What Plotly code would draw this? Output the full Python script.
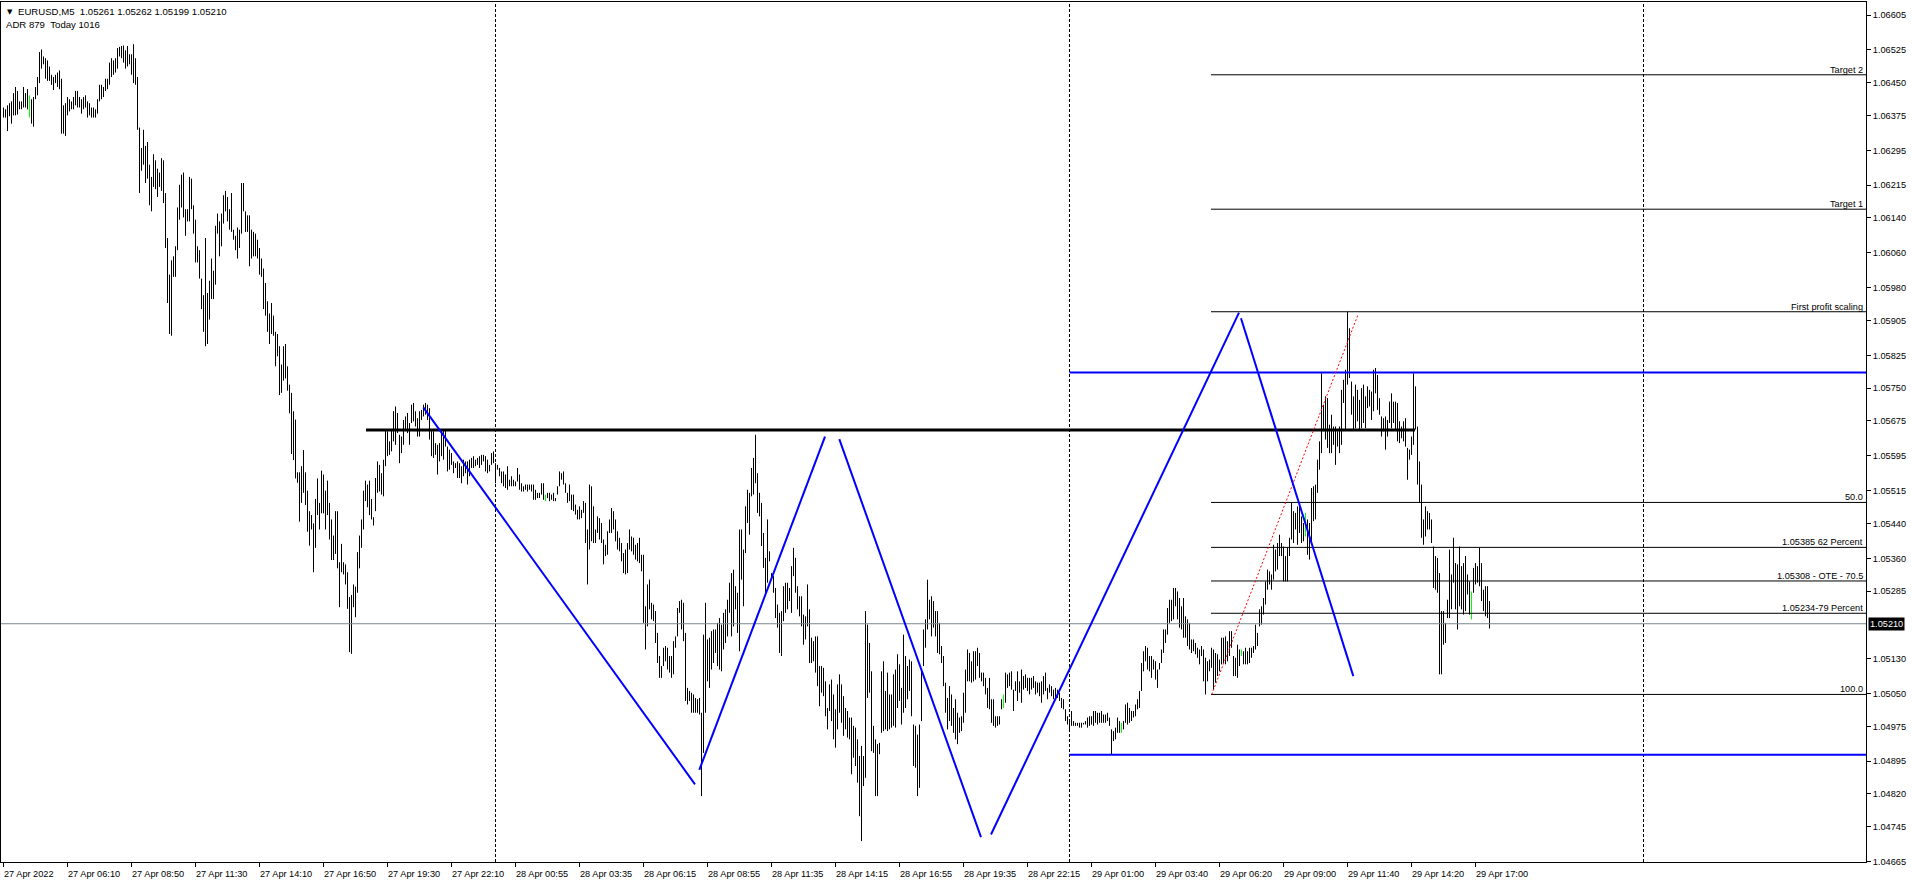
import plotly.graph_objects as go

# ---------------- data ----------------
# Bar highs / lows in 1e-5 units above 1.00000  (6393 -> 1.06393), EURUSD M5
HIGH_PTS = [
    6393, 6389, 6398, 6403, 6407, 6426, 6440, 6431, 6407, 6407,
    6440, 6426, 6435, 6421, 6412, 6417, 6440, 6463, 6520, 6526,
    6510, 6506, 6501, 6487, 6468, 6463, 6468, 6473, 6478, 6459,
    6398, 6403, 6417, 6412, 6407, 6417, 6431, 6431, 6417, 6412,
    6417, 6421, 6407, 6403, 6393, 6393, 6389, 6412, 6445, 6445,
    6440, 6459, 6459, 6496, 6506, 6501, 6506, 6529, 6532, 6534,
    6535, 6524, 6534, 6515, 6515, 6538, 6506, 6463, 6347, 6300,
    6342, 6305, 6314, 6262, 6234, 6286, 6272, 6253, 6244, 6277,
    6272, 6197, 6094, 6010, 6043, 6052, 6075, 6164, 6216, 6239,
    6244, 6160, 6160, 6234, 6230, 6169, 6136, 6075, 6066, 6001,
    5963, 6094, 5968, 5996, 6047, 6019, 6122, 6150, 6132, 6150,
    6192, 6202, 6188, 6160, 6197, 6113, 6099, 6118, 6113, 6220,
    6220, 6155, 6146, 6146, 6113, 6108, 6104, 6090, 6071, 6047,
    6024, 5991, 5949, 5921, 5945, 5916, 5879, 5874, 5846, 5804,
    5846, 5851, 5800, 5758, 5739, 5697, 5678, 5557, 5557, 5571,
    5608, 5557, 5515, 5468, 5459, 5440, 5496, 5543, 5487, 5561,
    5552, 5515, 5538, 5487, 5449, 5412, 5468, 5468, 5351, 5393,
    5351, 5346, 5328, 5271, 5276, 5300, 5295, 5374, 5412, 5449,
    5515, 5538, 5529, 5538, 5496, 5454,
    5544, 5582, 5574, 5555, 5586, 5655, 5651, 5628, 5655, 5697,
    5708, 5693, 5643, 5639, 5677, 5685, 5693, 5670, 5712, 5716,
    5697, 5681, 5697, 5700, 5712, 5716, 5712, 5704, 5655, 5651,
    5624, 5620, 5624, 5651, 5655, 5655, 5616, 5609, 5601, 5582,
    5578, 5582, 5578, 5571, 5586, 5582, 5582, 5586, 5590, 5594,
    5586, 5590, 5594, 5597, 5597, 5594, 5586, 5574, 5601, 5605,
    5578, 5574, 5567, 5559, 5559, 5552, 5571, 5540, 5548, 5540,
    5536, 5567, 5552, 5532, 5525, 5529, 5529, 5529, 5529, 5529,
    5517, 5510, 5510, 5532, 5532, 5506, 5510, 5510, 5506, 5510,
    5498, 5525, 5559, 5555, 5559, 5532, 5510, 5529, 5506, 5506,
    5483, 5471, 5479, 5471, 5491, 5487, 5426, 5529, 5525, 5479,
    5426, 5456, 5452, 5441, 5403, 5391, 5422, 5449, 5475, 5468,
    5449, 5422, 5407, 5395, 5372, 5380, 5395, 5426, 5410, 5407,
    5391, 5395, 5407, 5368, 5368, 5250, 5300, 5311, 5258, 5254,
    5239, 5189, 5136, 5113, 5155, 5159, 5155, 5136, 5136, 5170,
    5181, 5246, 5262, 5265, 5258, 5189, 5063, 5056, 5052, 5048,
    5040, 5037, 5040, 5006, 5185, 5258, 5174, 5178, 5193, 5197,
    5197, 5212, 5223, 5208, 5235, 5243, 5265, 5304, 5326, 5334,
    5296, 5281, 5426, 5426, 5380, 5479, 5517, 5510,
    5567, 5590, 5643, 5555, 5510, 5487, 5418, 5361, 5449, 5376,
    5326, 5319, 5292, 5254, 5235, 5239, 5296, 5304, 5304, 5292,
    5342, 5384, 5361, 5296, 5273, 5273, 5231, 5227, 5300, 5243,
    5178, 5170, 5181, 5181, 5113, 5113, 5109, 5078, 5017, 5071,
    5082, 5048, 5014, 5071, 5094, 5071, 5044, 5017, 5010, 4995,
    4995, 4976, 4972, 4945, 4907, 4930, 4907, 5239, 5208, 5166,
    5101, 4976, 4945, 4934, 4937, 5101, 5124, 5056, 5098, 5048,
    5048, 5094, 5105, 5140, 5117, 5063, 5185, 5136, 5113, 5128,
    5124, 4979, 4976, 4956, 4979, 5105, 5197, 5220, 5311, 5265,
    5273, 5262, 5239, 5239, 5212, 5159, 5136, 5075, 5040, 5067,
    5048, 5017, 5037, 5006, 4995, 4998, 5052, 5105, 5151, 5143,
    5124, 5147, 5147, 5155, 5143, 5098, 5098, 5086, 5063, 5086,
    5037, 5037, 4998, 4998, 4998, 5037, 5048, 5098, 5094, 5098,
    5101, 5059, 5078, 5101, 5078, 5105, 5090, 5094, 5086, 5086,
    5086, 5090, 5078, 5075, 5075, 5078, 5090, 5098, 5063, 5071,
    5067, 5059, 5063, 5059, 5052, 5040, 5037, 5014, 4998, 4991,
    5010, 4987, 4983, 4983, 4983, 4983, 4983, 4987, 4995, 4998,
    4998, 5010, 5010, 5006, 5006, 5010, 5002, 5002, 5006, 4995,
    4968, 4964, 4972, 4995, 4987, 4983, 4987,
    5025, 5029, 5017, 5010, 5010, 5025, 5037, 5056, 5120, 5147,
    5159, 5155, 5136, 5136, 5128, 5124, 5105, 5120, 5151, 5197,
    5197, 5246, 5265, 5265, 5292, 5292, 5284, 5269, 5250, 5269,
    5227, 5220, 5212, 5174, 5174, 5166, 5155, 5151, 5159, 5151,
    5132, 5124, 5128, 5155, 5151, 5143, 5140, 5128, 5178, 5178,
    5181, 5170, 5193, 5193, 5136, 5132, 5162, 5151, 5151, 5147,
    5155, 5147, 5155, 5155, 5159, 5208, 5189, 5243, 5250, 5269,
    5307, 5334, 5330, 5323, 5391, 5380, 5395, 5414, 5395, 5387,
    5365, 5384, 5407, 5487, 5468, 5464, 5479, 5487, 5456, 5441,
    5464, 5449, 5441, 5521, 5525, 5529, 5586, 5628, 5784, 5712,
    5731, 5727, 5666, 5689, 5662, 5662, 5651, 5662, 5746, 5769,
    5792, 5925, 5887, 5765, 5731, 5758, 5746, 5723, 5750, 5758,
    5731, 5754, 5746, 5742, 5792, 5796, 5780, 5727, 5685, 5681,
    5685, 5677, 5719, 5738, 5719, 5719, 5716, 5674, 5662, 5674,
    5681, 5613, 5609, 5639, 5784, 5754, 5662, 5582, 5529, 5449,
    5479, 5468, 5464, 5449, 5387, 5365, 5361, 5326, 5239, 5239,
    5212, 5265, 5380, 5323, 5407, 5349, 5346, 5387, 5342, 5349,
    5365, 5323, 5307, 5284, 5338, 5349, 5342, 5384, 5349, 5288,
    5296, 5296, 5262,
]
LOW_PTS = [
    6370, 6370, 6339, 6373, 6356, 6375, 6375, 6377, 6389, 6389,
    6393, 6393, 6389, 6370, 6356, 6349, 6412, 6421, 6449, 6482,
    6492, 6459, 6454, 6454, 6445, 6433, 6449, 6440, 6435, 6333,
    6333, 6328, 6375, 6384, 6389, 6389, 6398, 6393, 6393, 6379,
    6389, 6393, 6370, 6375, 6370, 6370, 6370, 6379, 6407, 6412,
    6417, 6431, 6435, 6445, 6463, 6468, 6473, 6482, 6510, 6506,
    6496, 6482, 6487, 6492, 6468, 6449, 6445, 6342, 6197, 6248,
    6262, 6220, 6230, 6169, 6155, 6211, 6206, 6188, 6211, 6202,
    6174, 6071, 5945, 5874, 5870, 6005, 6005, 6066, 6136, 6164,
    6141, 6099, 6132, 6132, 6160, 6104, 6038, 6038, 6001, 5931,
    5879, 5846, 5851, 5907, 5954, 5954, 5987, 6104, 6052, 6075,
    6127, 6155, 6132, 6113, 6108, 6090, 6066, 6047, 6071, 6104,
    6155, 6108, 6108, 6029, 6047, 6052, 6052, 6047, 6010, 6005,
    5931, 5916, 5879, 5851, 5874, 5870, 5800, 5823, 5734, 5739,
    5767, 5772, 5744, 5692, 5599, 5585, 5543, 5533, 5444, 5487,
    5510, 5482, 5421, 5389, 5426, 5328, 5384, 5459, 5426, 5463,
    5463, 5426, 5459, 5403, 5356, 5356, 5370, 5337, 5248, 5328,
    5323, 5300, 5244, 5145, 5141, 5248, 5225, 5281, 5337, 5384,
    5426, 5491, 5477, 5459, 5449, 5435,
    5468, 5510, 5513, 5506, 5502, 5571, 5594, 5597, 5605, 5628,
    5620, 5647, 5578, 5601, 5620, 5655, 5647, 5620, 5670, 5674,
    5662, 5639, 5639, 5677, 5685, 5689, 5677, 5632, 5594, 5590,
    5597, 5552, 5582, 5594, 5586, 5616, 5559, 5563, 5574, 5555,
    5567, 5544, 5544, 5532, 5548, 5555, 5529, 5548, 5567, 5567,
    5571, 5574, 5567, 5574, 5582, 5559, 5555, 5559, 5574, 5578,
    5532, 5563, 5548, 5532, 5525, 5521, 5517, 5525, 5525, 5525,
    5525, 5536, 5517, 5513, 5513, 5517, 5513, 5517, 5513, 5494,
    5494, 5498, 5498, 5506, 5494, 5491, 5498, 5491, 5494, 5491,
    5491, 5506, 5525, 5540, 5529, 5510, 5487, 5491, 5471, 5468,
    5460, 5449, 5449, 5452, 5464, 5395, 5300, 5380, 5399, 5395,
    5395, 5418, 5403, 5395, 5346, 5365, 5368, 5418, 5418, 5426,
    5399, 5380, 5376, 5353, 5326, 5323, 5326, 5380, 5376, 5368,
    5357, 5353, 5349, 5330, 5212, 5151, 5204, 5243, 5220, 5216,
    5166, 5120, 5086, 5086, 5113, 5124, 5105, 5098, 5086, 5094,
    5155, 5181, 5235, 5197, 5170, 5033, 5025, 5033, 5006, 5006,
    5006, 5006, 5002, 4815, 4914, 5006, 5078, 5063, 5105, 5120,
    5143, 5113, 5105, 5101, 5151, 5166, 5181, 5235, 5181, 5204,
    5243, 5189, 5147, 5311, 5250, 5372, 5441, 5414,
    5502, 5506, 5532, 5464, 5456, 5388, 5338, 5277, 5304, 5353,
    5311, 5281, 5223, 5201, 5143, 5136, 5216, 5235, 5243, 5262,
    5235, 5319, 5281, 5243, 5227, 5204, 5162, 5174, 5204, 5120,
    5120, 5124, 5098, 5067, 5021, 5052, 5044, 4998, 4968, 5010,
    4987, 4945, 4926, 4968, 5006, 4983, 4953, 4968, 4949, 4945,
    4865, 4903, 4884, 4846, 4769, 4712, 4838, 4857, 5040, 5052,
    4918, 4914, 4815, 4815, 4911, 4960, 4964, 4968, 4964, 4968,
    4972, 4976, 4972, 5017, 5033, 4979, 5006, 5017, 5037, 5056,
    4998, 4884, 4880, 4815, 4834, 4987, 5113, 5155, 5197, 5220,
    5181, 5201, 5181, 5143, 5140, 5120, 5067, 5006, 4968, 4987,
    4976, 4960, 4945, 4934, 4960, 4964, 4983, 5006, 5078, 5078,
    5075, 5078, 5082, 5113, 5086, 5078, 5067, 5048, 5017, 5014,
    4983, 4976, 4972, 4976, 4979, 5014, 5017, 5029, 5063, 5067,
    5059, 5010, 5056, 5033, 5052, 5029, 5059, 5063, 5056, 5048,
    5059, 5063, 5048, 5052, 5044, 5029, 5048, 5056, 5037, 5052,
    5044, 5037, 5037, 5040, 5033, 5017, 5014, 4987, 4979, 4968,
    4976, 4976, 4976, 4976, 4972, 4972, 4979, 4979, 4972, 4976,
    4979, 4976, 4983, 4979, 4983, 4983, 4983, 4983, 4987, 4976,
    4911, 4941, 4945, 4960, 4960, 4960, 4968,
    4983, 4979, 4983, 4987, 4995, 4998, 5014, 5017, 5056, 5101,
    5124, 5105, 5101, 5086, 5105, 5082, 5063, 5105, 5120, 5143,
    5166, 5185, 5212, 5216, 5220, 5250, 5220, 5201, 5197, 5178,
    5178, 5159, 5151, 5143, 5147, 5140, 5132, 5117, 5136, 5078,
    5048, 5078, 5101, 5109, 5059, 5075, 5090, 5101, 5117, 5120,
    5117, 5124, 5136, 5155, 5090, 5090, 5086, 5113, 5136, 5117,
    5117, 5117, 5120, 5132, 5143, 5151, 5159, 5204, 5208, 5231,
    5254, 5288, 5300, 5288, 5311, 5330, 5334, 5365, 5365, 5307,
    5307, 5307, 5365, 5403, 5395, 5426, 5391, 5418, 5395, 5399,
    5410, 5368, 5357, 5399, 5445, 5449, 5510, 5563, 5601, 5651,
    5632, 5613, 5601, 5601, 5620, 5574, 5616, 5601, 5620, 5716,
    5655, 5758, 5773, 5689, 5655, 5658, 5674, 5655, 5658, 5670,
    5658, 5704, 5708, 5677, 5697, 5738, 5700, 5689, 5639, 5651,
    5609, 5639, 5670, 5658, 5670, 5655, 5628, 5624, 5635, 5628,
    5616, 5540, 5586, 5597, 5620, 5655, 5529, 5487, 5407, 5391,
    5410, 5426, 5426, 5395, 5292, 5288, 5281, 5094, 5094, 5162,
    5166, 5223, 5223, 5243, 5304, 5243, 5197, 5250, 5243, 5231,
    5239, 5277, 5231, 5220, 5281, 5300, 5304, 5296, 5262, 5239,
    5227, 5223, 5199,
]
GREEN_BARS = [13, 271, 500, 559, 619, 651, 734]

TICK_STEP = 32
TICK_LABELS = [
    "27 Apr 2022", "27 Apr 06:10", "27 Apr 08:50", "27 Apr 11:30", "27 Apr 14:10",
    "27 Apr 16:50", "27 Apr 19:30", "27 Apr 22:10", "28 Apr 00:55", "28 Apr 03:35",
    "28 Apr 06:15", "28 Apr 08:55", "28 Apr 11:35", "28 Apr 14:15", "28 Apr 16:55",
    "28 Apr 19:35", "28 Apr 22:15", "29 Apr 01:00", "29 Apr 03:40", "29 Apr 06:20",
    "29 Apr 09:00", "29 Apr 11:40", "29 Apr 14:20", "29 Apr 17:00",
]
DAY_BREAK_BARS = [246, 533, 820]
Y_TICKS = [1.06605, 1.06525, 1.06450, 1.06375, 1.06295, 1.06215, 1.06140, 1.06060,
           1.05980, 1.05905, 1.05825, 1.05750, 1.05675, 1.05595, 1.05515, 1.05440,
           1.05360, 1.05285, 1.05130, 1.05050, 1.04975, 1.04895, 1.04820, 1.04745,
           1.04665]
CURRENT_PRICE = 1.05210
HEADER = "EURUSD,M5\u00a0\u00a01.05261 1.05262 1.05199 1.05210"
SUBHEADER = "ADR 879\u00a0\u00a0Today 1016"

RES_PRICE, RES_FROM, RES_TO = 1.05654, 181.25, 705.75
RANGE_HIGH, RANGE_LOW, RANGE_FROM = 1.05786, 1.04910, 533
FIB_FROM = 603.75
FIB_LEVELS = [1.06468, 1.06160, 1.05925, 1.05488, 1.05385, 1.05308, 1.05234, 1.05048]
FIB_TEXT = ["Target 2", "Target 1", "First profit scaling", "50.0",
            "1.05385 62 Percent", "1.05308 - OTE - 70.5", "1.05234-79 Percent", "100.0"]
FIB_ANCHOR_BARS = [604.1, 677.4]
FIB_ANCHOR_PRICES = [1.05048, 1.05920]
ZIGZAG = [
    ((209.9, 1.05706), (345.75, 1.04842)),
    ((347.9, 1.04875), (410.75, 1.05639)),
    ((417.9, 1.05633), (488.75, 1.04721)),
    ((493.75, 1.04727), (617.75, 1.05923)),
    ((618.75, 1.05910), (674.9, 1.05090)),
]

# ---------------- layout constants ----------------
X_RANGE = [-1.25, 931.25]
Y_RANGE = [1.04664, 1.066348]
FONT = "Liberation Sans, Arial, sans-serif"
BLUE = "#0000FF"


def to_price(p):
    return 1.0 + p / 100000.0


def bar_segments(indices):
    xs, ys = [], []
    for i in indices:
        xs += [i, i, None]
        ys += [to_price(LOW_PTS[i]), to_price(HIGH_PTS[i]), None]
    return xs, ys


n = min(len(HIGH_PTS), len(LOW_PTS))
green = set(GREEN_BARS)
bx, by = bar_segments([i for i in range(n) if i not in green])
gx, gy = bar_segments([i for i in range(n) if i in green])

fig = go.Figure()
fig.add_trace(go.Scatter(x=bx, y=by, mode="lines", line=dict(color="black", width=1),
                         hoverinfo="skip", showlegend=False))
fig.add_trace(go.Scatter(x=gx, y=gy, mode="lines", line=dict(color="#00FF00", width=1),
                         hoverinfo="skip", showlegend=False))

shapes = []
# day separators
for b in DAY_BREAK_BARS:
    shapes.append(dict(type="line", xref="x", yref="paper", x0=b, x1=b, y0=0, y1=1,
                       line=dict(color="black", width=1, dash="3px,2px")))
# current price line
shapes.append(dict(type="line", xref="x", yref="y", x0=X_RANGE[0], x1=X_RANGE[1],
                   y0=CURRENT_PRICE, y1=CURRENT_PRICE, line=dict(color="#7A8794", width=1)))
# fib levels
for lv in FIB_LEVELS:
    shapes.append(dict(type="line", xref="x", yref="y", x0=FIB_FROM, x1=X_RANGE[1],
                       y0=lv, y1=lv, line=dict(color="black", width=1)))
# range box lines
for lv in (RANGE_HIGH, RANGE_LOW):
    shapes.append(dict(type="line", xref="x", yref="y", x0=RANGE_FROM, x1=X_RANGE[1],
                       y0=lv, y1=lv, line=dict(color=BLUE, width=2)))
# resistance
shapes.append(dict(type="line", xref="x", yref="y", x0=RES_FROM, x1=RES_TO,
                   y0=RES_PRICE, y1=RES_PRICE, line=dict(color="black", width=3)))
# fib trendline
shapes.append(dict(type="line", xref="x", yref="y", x0=FIB_ANCHOR_BARS[0], x1=FIB_ANCHOR_BARS[1],
                   y0=FIB_ANCHOR_PRICES[0], y1=FIB_ANCHOR_PRICES[1],
                   line=dict(color="#FF0000", width=1, dash="2px,2px")))
# zigzag
for (xa, ya), (xb, yb) in ZIGZAG:
    shapes.append(dict(type="line", xref="x", yref="y", x0=xa, x1=xb, y0=ya, y1=yb,
                       line=dict(color=BLUE, width=2)))

ann = []
# header
ann.append(dict(xref="paper", yref="paper", x=0, y=1, xanchor="left", yanchor="middle",
                xshift=4, yshift=-10, text="\u25bc", showarrow=False,
                font=dict(family="DejaVu Sans", size=7, color="black")))
ann.append(dict(xref="paper", yref="paper", x=0, y=1, xanchor="left", yanchor="middle",
                xshift=15, yshift=-9, text=HEADER, showarrow=False,
                font=dict(family=FONT, size=9.6, color="black")))
ann.append(dict(xref="paper", yref="paper", x=0, y=1, xanchor="left", yanchor="middle",
                xshift=3, yshift=-22, text=SUBHEADER, showarrow=False,
                font=dict(family=FONT, size=9.6, color="black")))
# fib level labels
for lv, t in zip(FIB_LEVELS, FIB_TEXT):
    ann.append(dict(xref="paper", yref="y", x=1, y=lv, xanchor="right", yanchor="bottom",
                    xshift=-1, yshift=-2, text=t, showarrow=False,
                    font=dict(family=FONT, size=9.2, color="black")))
# x tick labels (left aligned at tick)
for k, t in enumerate(TICK_LABELS):
    ann.append(dict(xref="x", yref="paper", x=k * TICK_STEP, y=0, xanchor="left",
                    yanchor="middle", xshift=-2, yshift=-12, text=t, showarrow=False,
                    font=dict(family=FONT, size=9.2, color="black")))
# current price box
ann.append(dict(xref="paper", yref="y", x=1, y=CURRENT_PRICE, xanchor="left", yanchor="middle",
                xshift=2, text="%.5f" % CURRENT_PRICE, showarrow=False, bgcolor="black",
                borderpad=1, font=dict(family=FONT, size=9.2, color="white")))

fig.update_layout(
    width=1912, height=885,
    margin=dict(l=1, r=46, t=2, b=23, pad=0),
    paper_bgcolor="white", plot_bgcolor="white",
    showlegend=False, hovermode=False,
    shapes=shapes, annotations=ann,
    xaxis=dict(range=X_RANGE, showgrid=False, zeroline=False, showline=True, mirror=True,
               linecolor="black", linewidth=1, ticks="outside", ticklen=4, tickcolor="black",
               tickvals=[k * TICK_STEP for k in range(len(TICK_LABELS))],
               showticklabels=False, fixedrange=True),
    yaxis=dict(range=Y_RANGE, side="right", showgrid=False, zeroline=False, showline=True,
               mirror=True, linecolor="black", linewidth=1, ticks="outside", ticklen=4,
               tickcolor="black", tickvals=Y_TICKS, ticktext=["%.5f" % v for v in Y_TICKS],
               tickfont=dict(family=FONT, size=9.2, color="black"), fixedrange=True),
)

fig.write_html("out.html", config={"displayModeBar": False, "staticPlot": True},
               post_script="document.body.style.margin='0';document.body.style.overflow='hidden';")
